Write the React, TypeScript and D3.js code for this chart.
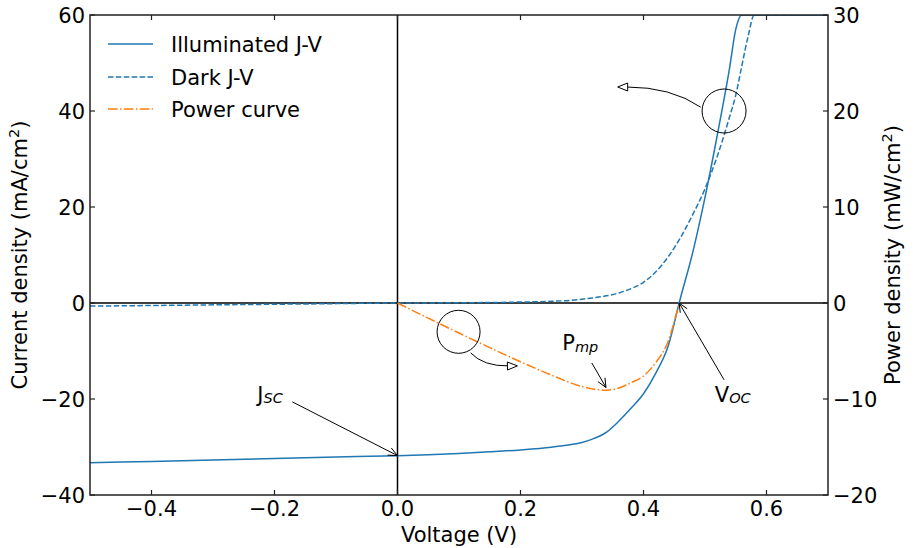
import React from "react";
import * as d3 from "d3";

// J-V data (mA/cm2)
const voltage = [-0.5, -0.4, -0.3, -0.2, -0.1, 0, 0.05, 0.1, 0.15, 0.2, 0.25, 0.28, 0.3, 0.32, 0.34, 0.36, 0.38, 0.4, 0.42, 0.44, 0.46, 0.48, 0.5, 0.52, 0.54, 0.55, 0.56, 0.57, 0.58, 0.6, 0.65, 0.7];
const jIlluminated = [-33.3, -33.0, -32.7, -32.4, -32.1, -31.8, -31.6, -31.35, -31.0, -30.6, -30.05, -29.55, -29.05, -28.2, -26.9, -24.6, -21.9, -18.9, -14.6, -9.0, 1.0, 10.5, 22, 35, 49, 57, 60, 60, 60, 60, 60, 60];
const jDark = [-0.65, -0.52, -0.39, -0.26, -0.13, 0, 0.02, 0.05, 0.1, 0.2, 0.35, 0.55, 0.8, 1.1, 1.5, 2.1, 3.0, 4.3, 6.5, 9.6, 13.6, 18.4, 23.8, 30.6, 38.8, 43.3, 49.5, 55.5, 60, 60, 60, 60];

// power curve (mW/cm2), from 0 V to Voc
const powerVoltage = [0, 0.05, 0.1, 0.15, 0.2, 0.25, 0.3, 0.32, 0.34, 0.36, 0.38, 0.4, 0.42, 0.44, 0.458];
const power = [0, -1.58, -3.13, -4.65, -6.12, -7.5, -8.7, -8.98, -9.08, -8.85, -8.3, -7.6, -6.2, -4.0, 0];

const xTicks = [-0.4, -0.2, 0.0, 0.2, 0.4, 0.6];
const yLeftTicks = [-40, -20, 0, 20, 40, 60];
const yRightTicks = [-20, -10, 0, 10, 20, 30];

const legendLabels = ["Illuminated J-V", "Dark J-V", "Power curve"];

const W = 915, H = 548;
const font = "'DejaVu Sans', sans-serif";
const blue = "#1f77b4", orange = "#ff7f0e";
const fs = 21, subFs = 14.5;

const x = d3.scaleLinear().domain([-0.5, 0.7]).range([90, 828]);
const yL = d3.scaleLinear().domain([-40, 60]).range([495, 15]);
const yR = d3.scaleLinear().domain([-20, 30]).range([495, 15]);

const fmtX = d3.format(".1f");
const fmtY = d3.format("d");

type Pt = [number, number];

// open "->" head
const openHead = (tip: Pt, from: Pt, len = 9, hw = 4) => {
  const dx = tip[0] - from[0], dy = tip[1] - from[1];
  const d = Math.hypot(dx, dy);
  const ux = dx / d, uy = dy / d;
  const bx = tip[0] - ux * len, by = tip[1] - uy * len;
  return `M${bx - uy * hw},${by + ux * hw}L${tip[0]},${tip[1]}L${bx + uy * hw},${by - ux * hw}`;
};

// closed "-|>" head
const triHead = (tip: Pt, from: Pt, len = 10, hw = 4) => {
  const dx = tip[0] - from[0], dy = tip[1] - from[1];
  const d = Math.hypot(dx, dy);
  const ux = dx / d, uy = dy / d;
  const bx = tip[0] - ux * len, by = tip[1] - uy * len;
  return `${bx - uy * hw},${by + ux * hw} ${tip[0]},${tip[1]} ${bx + uy * hw},${by - ux * hw}`;
};

export default function App() {
  const lineL = d3.line<number>().x((_, i) => x(voltage[i])).y(d => yL(d)).curve(d3.curveMonotoneX);
  const lineP = d3.line<number>().x((_, i) => x(powerVoltage[i])).y(d => yR(d)).curve(d3.curveMonotoneX);

  // annotation anchors in data units
  const jsc: Pt = [x(0), yL(-31.8)];
  const jscFrom: Pt = [x(-0.171), yL(-20.6)];
  const pmp: Pt = [x(0.339), yL(-17.6)];
  const pmpFrom: Pt = [x(0.316), yL(-12.5)];
  const voc: Pt = [x(0.458), yL(0)];
  const vocFrom: Pt = [x(0.531), yL(-16)];

  const c1: Pt = [x(0.0993), yL(-6.0)];
  const a1s: Pt = [x(0.119), yL(-10.4)], a1c: Pt = [x(0.14), yL(-13.2)], a1e: Pt = [x(0.195), yL(-13.1)];
  const c2: Pt = [x(0.531), yL(40)];
  const a2s: Pt = [x(0.493), yL(40.8)], a2c: Pt = [x(0.445), yL(45.0)], a2e: Pt = [x(0.358), yL(45.0)];

  const legendY = [44, 77, 109];
  const legendStyles = [
    { stroke: blue, dash: undefined },
    { stroke: blue, dash: "5.5,2.4" },
    { stroke: orange, dash: "9.6,2.4,1.5,2.4" },
  ];

  return (
    <svg width={W} height={H} style={{ position: "absolute", left: 0, top: 0, background: "#fff" }} fontFamily={font}>
      <defs>
        <clipPath id="plot">
          <rect x={90} y={15} width={738} height={480} />
        </clipPath>
      </defs>

      <g clipPath="url(#plot)">
        <line x1={90} x2={828} y1={yL(0)} y2={yL(0)} stroke="#000" strokeWidth={1.5} />
        <line x1={x(0)} x2={x(0)} y1={15} y2={495} stroke="#000" strokeWidth={1.5} />
        <path d={lineL(jIlluminated) || ""} fill="none" stroke={blue} strokeWidth={1.5} />
        <path d={lineL(jDark) || ""} fill="none" stroke={blue} strokeWidth={1.5} strokeDasharray="5.5,2.4" />
        <path d={lineP(power) || ""} fill="none" stroke={orange} strokeWidth={1.5} strokeDasharray="9.6,2.4,1.5,2.4" />
      </g>

      {/* annotations */}
      <g stroke="#000" strokeWidth={1} fill="none">
        <line x1={jscFrom[0]} y1={jscFrom[1]} x2={jsc[0]} y2={jsc[1]} />
        <path d={openHead(jsc, jscFrom)} />
        <line x1={pmpFrom[0]} y1={pmpFrom[1]} x2={pmp[0]} y2={pmp[1]} />
        <path d={openHead(pmp, pmpFrom)} />
        <line x1={vocFrom[0]} y1={vocFrom[1]} x2={voc[0]} y2={voc[1]} />
        <path d={openHead(voc, vocFrom)} />
        <circle cx={c1[0]} cy={c1[1]} r={21.5} />
        <circle cx={c2[0]} cy={c2[1]} r={22} />
        <path d={`M${a1s[0]},${a1s[1]}Q${a1c[0]},${a1c[1]} ${a1e[0] - 9},${a1e[1]}`} />
        <polygon points={triHead(a1e, a1c)} fill="#fff" />
        <path d={`M${a2s[0]},${a2s[1]}Q${a2c[0]},${a2c[1]} ${a2e[0] + 9},${a2e[1]}`} />
        <polygon points={triHead(a2e, a2c)} fill="#fff" />
      </g>
      <g fontSize={fs} fill="#000">
        <text x={x(-0.228)} y={yL(-20.6)}>J<tspan fontSize={subFs} fontStyle="italic" dy={1}>SC</tspan></text>
        <text x={x(0.268)} y={yL(-9.8)}>P<tspan fontSize={subFs} fontStyle="italic" dy={2}>mp</tspan></text>
        <text x={x(0.516)} y={yL(-20.6)}>V<tspan fontSize={subFs} fontStyle="italic" dy={1}>OC</tspan></text>
      </g>

      {/* spines */}
      <rect x={90} y={15} width={738} height={480} fill="none" stroke="#222" strokeWidth={1.5} />

      {/* ticks */}
      <g stroke="#222" strokeWidth={1.2}>
        {xTicks.map(t => (
          <g key={"xt" + t}>
            <line x1={x(t)} x2={x(t)} y1={495} y2={490} />
            <line x1={x(t)} x2={x(t)} y1={15} y2={20} />
          </g>
        ))}
        {yLeftTicks.map(t => <line key={"yl" + t} x1={90} x2={95} y1={yL(t)} y2={yL(t)} />)}
        {yRightTicks.map(t => <line key={"yr" + t} x1={828} x2={823} y1={yR(t)} y2={yR(t)} />)}
      </g>

      <g fontSize={fs} fill="#000">
        {xTicks.map(t => (
          <text key={"xl" + t} x={x(t)} y={516} textAnchor="middle">{fmtX(t)}</text>
        ))}
        {yLeftTicks.map(t => (
          <text key={"yll" + t} x={85} y={yL(t) + 7.5} textAnchor="end">{fmtY(t)}</text>
        ))}
        {yRightTicks.map(t => (
          <text key={"yrl" + t} x={833} y={yR(t) + 7.5} textAnchor="start">{fmtY(t)}</text>
        ))}
        <text x={459} y={542} textAnchor="middle">Voltage (V)</text>
        <text transform="translate(27,255) rotate(-90)" textAnchor="middle">
          Current density (mA/cm<tspan dy={-8} fontSize={subFs}>2</tspan><tspan dy={8}>)</tspan>
        </text>
        <text transform="translate(900,255) rotate(-90)" textAnchor="middle">
          Power density (mW/cm<tspan dy={-8} fontSize={subFs}>2</tspan><tspan dy={8}>)</tspan>
        </text>
      </g>

      {/* legend */}
      <g>
        {legendLabels.map((lab, i) => (
          <g key={lab}>
            <line x1={108} x2={153} y1={legendY[i]} y2={legendY[i]} stroke={legendStyles[i].stroke} strokeWidth={1.5} strokeDasharray={legendStyles[i].dash} />
            <text x={171} y={legendY[i] + 7.5} fontSize={fs} fill="#000">{lab}</text>
          </g>
        ))}
      </g>
    </svg>
  );
}
